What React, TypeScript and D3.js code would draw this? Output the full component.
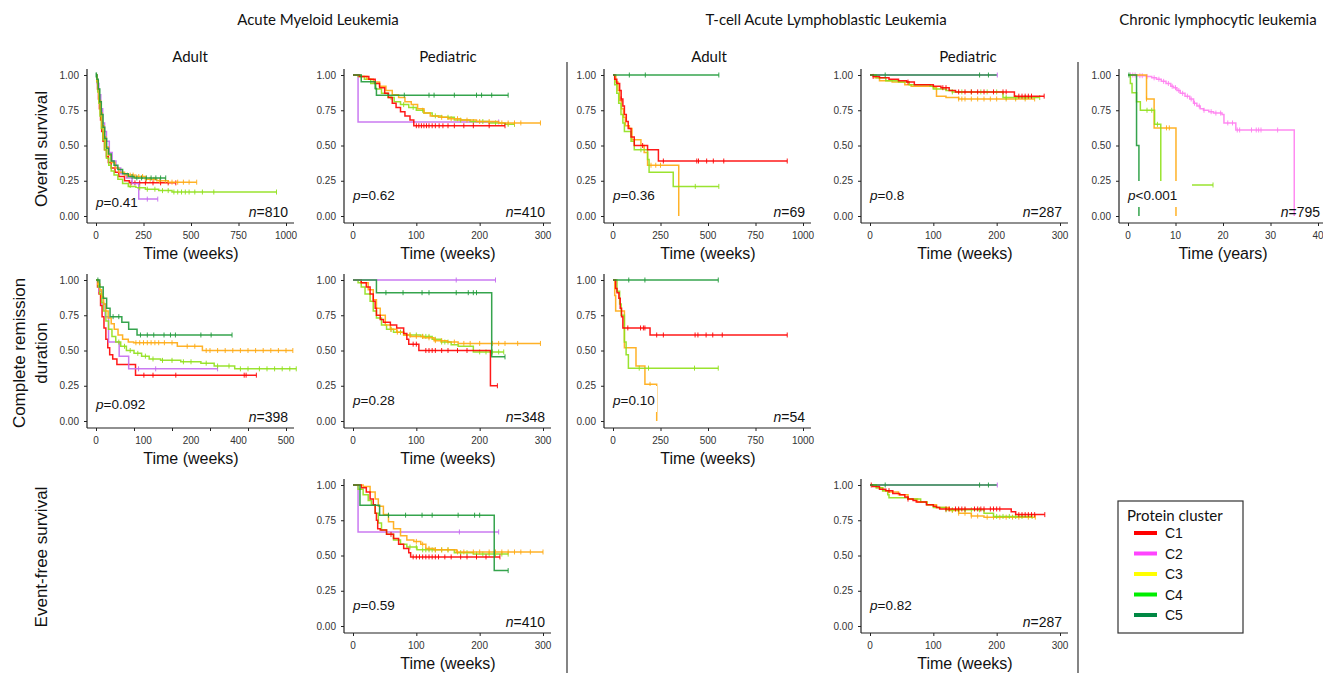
import React, { useRef, useEffect } from 'react';
import * as d3 from 'd3';

// colours used for the curves, and (brighter) for the legend keys
const clusters = ['C1', 'C2', 'C3', 'C4', 'C5'];
const curveColors = { C1: '#ff0000', C2: '#c46cf0', C3: '#ffaa11', C4: '#8fe01a', C5: '#1f9a3a' };
const cllColors = { ...curveColors, C2: '#ff7ef0' };
const legendColors = ['#ff0000', '#ff44ff', '#ffff00', '#00ee00', '#008844'];

const yTicks = [0, 0.25, 0.5, 0.75, 1];

// steps: [time, survival after drop]; end: last follow-up; censor: censor times
const amlAdultOS = [
  { c: 'C1', steps: [[4, 0.96], [8, 0.9], [13, 0.83], [18, 0.76], [24, 0.68], [30, 0.6], [37, 0.53], [45, 0.47], [55, 0.42], [65, 0.38], [80, 0.34], [100, 0.31], [120, 0.28], [150, 0.25], [175, 0.235]], end: 420, censor: [185, 205, 230, 260, 300, 340, 380, 420] },
  { c: 'C2', steps: [[6, 0.94], [15, 0.86], [25, 0.76], [35, 0.66], [45, 0.6], [55, 0.53], [70, 0.45], [85, 0.39], [105, 0.34], [130, 0.3], [160, 0.27], [190, 0.23], [225, 0.12]], end: 325, censor: [270, 325] },
  { c: 'C4', steps: [[4, 0.95], [9, 0.88], [15, 0.8], [21, 0.71], [28, 0.62], [36, 0.54], [45, 0.47], [55, 0.41], [67, 0.36], [80, 0.32], [95, 0.29], [115, 0.26], [140, 0.23], [170, 0.21], [210, 0.2], [260, 0.19], [330, 0.18], [400, 0.17]], end: 950, censor: [180, 230, 270, 310, 350, 380, 410, 430, 450, 470, 490, 520, 560, 620, 950] },
  { c: 'C3', steps: [[5, 0.96], [10, 0.9], [17, 0.82], [24, 0.73], [32, 0.64], [42, 0.56], [52, 0.49], [65, 0.43], [80, 0.38], [100, 0.34], [120, 0.31], [150, 0.29], [200, 0.28], [260, 0.26], [320, 0.25], [380, 0.24]], end: 530, censor: [165, 180, 195, 210, 225, 245, 265, 285, 305, 335, 365, 400, 430, 460, 490, 530] },
  { c: 'C5', steps: [[5, 0.97], [12, 0.9], [20, 0.81], [28, 0.72], [37, 0.63], [46, 0.55], [56, 0.48], [66, 0.44], [80, 0.39], [95, 0.36], [115, 0.33], [140, 0.3], [170, 0.28], [200, 0.27]], end: 367, censor: [0, 3, 190, 215, 240, 265, 290, 315, 340, 367] },
];

const amlPedOS = [
  { c: 'C2', steps: [[8, 0.667]], end: 230, censor: [230] },
  { c: 'C4', steps: [[8, 0.99], [18, 0.97], [28, 0.94], [36, 0.9], [45, 0.87], [55, 0.84], [65, 0.81], [75, 0.79], [88, 0.77], [100, 0.75], [112, 0.73], [125, 0.71], [140, 0.7], [160, 0.68], [185, 0.67], [215, 0.66], [240, 0.65]], end: 255, censor: [60, 80, 95, 110, 130, 150, 170, 190, 205, 225, 245, 255] },
  { c: 'C3', steps: [[12, 0.99], [22, 0.97], [32, 0.95], [42, 0.92], [52, 0.89], [62, 0.86], [72, 0.84], [82, 0.81], [92, 0.79], [102, 0.76], [112, 0.73], [122, 0.71], [135, 0.7], [150, 0.69], [170, 0.68], [195, 0.67], [230, 0.66]], end: 296, censor: [140, 155, 165, 180, 200, 215, 235, 245, 255, 265, 296] },
  { c: 'C1', steps: [[10, 0.99], [25, 0.97], [35, 0.94], [42, 0.91], [50, 0.87], [56, 0.84], [62, 0.8], [68, 0.77], [75, 0.74], [82, 0.71], [90, 0.68], [96, 0.64]], end: 240, censor: [100, 104, 108, 112, 116, 120, 125, 130, 136, 142, 150, 160, 175, 190, 215, 240] },
  { c: 'C5', steps: [[13, 0.952], [35, 0.905], [37, 0.857]], end: 245, censor: [81, 120, 128, 160, 195, 203, 219, 245] },
];

const tallAdultOS = [
  { c: 'C3', steps: [[15, 0.95], [26, 0.89], [35, 0.82], [45, 0.76], [55, 0.7], [65, 0.64], [86, 0.62], [100, 0.54], [147, 0.5], [164, 0.45], [182, 0.36], [346, 0]], end: 346, censor: [200, 225, 250] },
  { c: 'C4', steps: [[9, 0.93], [20, 0.87], [30, 0.8], [42, 0.72], [52, 0.66], [60, 0.6], [95, 0.53], [112, 0.47], [182, 0.4], [190, 0.31], [317, 0.21]], end: 557, censor: [147, 433, 557] },
  { c: 'C1', steps: [[9, 0.97], [20, 0.94], [35, 0.89], [43, 0.83], [52, 0.78], [60, 0.72], [70, 0.67], [80, 0.62], [95, 0.56], [112, 0.5], [182, 0.47], [239, 0.39]], end: 917, censor: [43, 156, 265, 441, 450, 493, 528, 583, 917] },
  { c: 'C5', steps: [], end: 557, censor: [86, 170, 557] },
];

const tallPedOS = [
  { c: 'C2', steps: [], end: 201, censor: [201] },
  { c: 'C3', steps: [[8, 0.98], [15, 0.96], [35, 0.95], [55, 0.93], [65, 0.92], [100, 0.91], [105, 0.85], [120, 0.84], [140, 0.83]], end: 260, censor: [140, 145, 150, 160, 170, 180, 190, 200, 215, 230, 245, 260] },
  { c: 'C4', steps: [[10, 0.98], [25, 0.96], [45, 0.95], [62, 0.93], [95, 0.92], [100, 0.9], [120, 0.89], [130, 0.88], [210, 0.84]], end: 268, censor: [130, 145, 160, 175, 185, 200, 215, 230, 245, 268] },
  { c: 'C1', steps: [[5, 0.99], [15, 0.98], [30, 0.97], [45, 0.96], [58, 0.95], [70, 0.93], [100, 0.92], [112, 0.91], [125, 0.89], [135, 0.88], [228, 0.85]], end: 275, censor: [5, 60, 115, 120, 140, 150, 160, 170, 180, 195, 210, 215, 235, 240, 245, 250, 255, 275] },
  { c: 'C5', steps: [], end: 200, censor: [24, 173, 187] },
];

const cllOS = [
  { c: 'C2', steps: [[2, 0.995], [3.9, 0.99], [5, 0.98], [6, 0.97], [7, 0.955], [8, 0.94], [9, 0.92], [9.6, 0.91], [10.3, 0.89], [11, 0.87], [12, 0.85], [13, 0.83], [13.8, 0.8], [14.5, 0.78], [15.2, 0.76], [15.9, 0.75], [17, 0.74], [18, 0.73], [19.8, 0.72], [20.2, 0.66], [22.7, 0.61], [35, 0]], end: 35, censor: [0.5, 1, 1.5, 2.5, 3, 4, 5.5, 6.5, 7.5, 8.5, 9.3, 10, 10.7, 11.5, 12.5, 13.3, 14, 15, 16, 17.5, 18.5, 19.5, 21, 22, 23, 23.5, 26, 27, 27.5, 28, 31.5] },
  { c: 'C3', steps: [[3.9, 0.83], [5.5, 0.625], [10.1, 0]], end: 10.1, censor: [3.9, 8.1, 8.7] },
  { c: 'C4', steps: [[0.5, 0.94], [0.85, 0.875], [1.8, 0.81], [2.6, 0.75], [5.6, 0.65], [6.9, 0.22]], end: 17.9, censor: [4, 5, 6.2, 17.9] },
  { c: 'C5', steps: [[1.8, 0.5], [2.3, 0]], end: 2.3, censor: [0.2] },
];

const amlAdultCRD = [
  { c: 'C1', steps: [[4, 0.95], [8, 0.9], [12, 0.82], [16, 0.74], [21, 0.66], [26, 0.58], [31, 0.52], [36, 0.47], [44, 0.44], [55, 0.4], [104, 0.325]], end: 422, censor: [126, 150, 210, 390, 395, 422] },
  { c: 'C2', steps: [[8, 0.92], [15, 0.83], [24, 0.74], [33, 0.56], [61, 0.46], [86, 0.37]], end: 320, censor: [112, 157, 320] },
  { c: 'C4', steps: [[6, 0.95], [10, 0.9], [15, 0.84], [20, 0.78], [26, 0.71], [33, 0.65], [42, 0.6], [52, 0.56], [65, 0.53], [80, 0.5], [100, 0.48], [120, 0.46], [140, 0.44], [170, 0.43], [223, 0.42], [276, 0.41], [311, 0.39], [365, 0.37]], end: 527, censor: [60, 75, 90, 110, 130, 150, 175, 200, 230, 250, 290, 320, 350, 380, 400, 430, 450, 470, 490, 510, 527] },
  { c: 'C3', steps: [[5, 0.97], [10, 0.93], [15, 0.88], [20, 0.83], [26, 0.78], [32, 0.73], [40, 0.69], [48, 0.65], [58, 0.61], [70, 0.58], [85, 0.56], [99, 0.555], [214, 0.53], [280, 0.5]], end: 518, censor: [105, 115, 125, 135, 145, 155, 165, 180, 200, 240, 260, 290, 300, 320, 340, 360, 380, 400, 420, 440, 460, 480, 500, 518] },
  { c: 'C5', steps: [[10, 0.95], [19, 0.87], [28, 0.8], [37, 0.74], [68, 0.7], [86, 0.65], [108, 0.61]], end: 358, censor: [5, 45, 60, 117, 135, 152, 179, 196, 209, 276, 303, 358] },
];

const amlPedCRD = [
  { c: 'C4', steps: [[8, 0.98], [13, 0.95], [19, 0.9], [27, 0.85], [32, 0.78], [37, 0.73], [45, 0.68], [53, 0.65], [64, 0.63], [80, 0.61], [107, 0.6], [125, 0.58], [139, 0.56], [155, 0.54], [166, 0.53], [190, 0.49]], end: 238, censor: [60, 75, 90, 100, 110, 115, 120, 130, 140, 145, 150, 200, 210, 220, 230, 238] },
  { c: 'C3', steps: [[13, 0.98], [24, 0.93], [32, 0.86], [37, 0.8], [43, 0.75], [51, 0.68], [59, 0.65], [69, 0.63], [80, 0.61], [91, 0.6], [112, 0.59], [128, 0.57], [149, 0.56], [166, 0.55]], end: 296, censor: [60, 70, 90, 100, 110, 120, 130, 140, 160, 175, 185, 200, 220, 230, 240, 260, 296] },
  { c: 'C1', steps: [[13, 0.98], [21, 0.95], [27, 0.9], [32, 0.85], [35, 0.8], [37, 0.75], [43, 0.72], [48, 0.7], [59, 0.68], [69, 0.66], [80, 0.62], [85, 0.58], [88, 0.545], [104, 0.5], [217, 0.25]], end: 228, censor: [95, 100, 115, 120, 125, 130, 140, 150, 165, 180, 228] },
  { c: 'C2', steps: [], end: 225, censor: [163, 225] },
  { c: 'C5', steps: [[37, 0.91], [219, 0.455]], end: 240, censor: [52, 79, 109, 120, 163, 182, 190, 195, 240] },
];

const tallAdultCRD = [
  { c: 'C3', steps: [[9, 0.89], [14, 0.78], [60, 0.52], [121, 0.39], [168, 0.26], [230, 0]], end: 230, censor: [195] },
  { c: 'C4', steps: [[21, 0.92], [35, 0.83], [43, 0.75], [60, 0.56], [69, 0.47], [81, 0.375]], end: 554, censor: [138, 187, 429, 554] },
  { c: 'C1', steps: [[14, 0.94], [21, 0.91], [31, 0.87], [38, 0.8], [45, 0.74], [52, 0.66], [195, 0.61]], end: 917, censor: [78, 145, 160, 168, 230, 265, 432, 447, 490, 525, 575, 917] },
  { c: 'C5', steps: [], end: 554, censor: [83, 168, 554] },
];

const amlPedEFS = [
  { c: 'C2', steps: [[8, 0.667]], end: 230, censor: [168, 230] },
  { c: 'C4', steps: [[8, 0.97], [16, 0.93], [24, 0.89], [29, 0.86], [35, 0.8], [40, 0.73], [45, 0.68], [53, 0.65], [64, 0.61], [75, 0.58], [85, 0.56], [101, 0.54], [160, 0.52], [190, 0.51]], end: 245, censor: [90, 100, 110, 115, 120, 125, 130, 140, 150, 170, 180, 195, 205, 215, 225, 235, 245] },
  { c: 'C3', steps: [[16, 0.99], [27, 0.95], [35, 0.9], [40, 0.85], [48, 0.79], [56, 0.74], [64, 0.69], [75, 0.64], [85, 0.61], [96, 0.6], [107, 0.58], [115, 0.55], [128, 0.54], [163, 0.525]], end: 300, censor: [100, 110, 120, 130, 140, 150, 165, 175, 190, 200, 215, 225, 235, 245, 255, 265, 280, 300] },
  { c: 'C1', steps: [[13, 0.98], [21, 0.95], [27, 0.9], [32, 0.86], [35, 0.8], [37, 0.75], [39, 0.69], [43, 0.68], [53, 0.65], [64, 0.62], [72, 0.58], [80, 0.55], [88, 0.52], [91, 0.49]], end: 232, censor: [60, 95, 100, 105, 110, 115, 120, 125, 130, 135, 145, 155, 170, 180, 195, 210, 232] },
  { c: 'C5', steps: [[11, 0.857], [42, 0.786], [223, 0.393]], end: 245, censor: [56, 83, 109, 125, 166, 192, 200, 245] },
];

const tallPedEFS = [
  { c: 'C2', steps: [], end: 201, censor: [201] },
  { c: 'C3', steps: [[10, 0.98], [20, 0.96], [30, 0.95], [45, 0.93], [60, 0.9], [75, 0.88], [90, 0.86], [105, 0.84], [125, 0.82], [140, 0.8], [160, 0.78], [180, 0.772]], end: 261, censor: [130, 140, 150, 160, 170, 185, 195, 205, 215, 225, 235, 250, 261] },
  { c: 'C4', steps: [[10, 0.98], [20, 0.96], [28, 0.93], [30, 0.91], [60, 0.9], [80, 0.88], [90, 0.86], [100, 0.84], [120, 0.824], [180, 0.8], [195, 0.777]], end: 256, censor: [120, 130, 140, 150, 160, 173, 200, 210, 220, 230, 240, 256] },
  { c: 'C1', steps: [[4, 0.99], [15, 0.97], [25, 0.96], [36, 0.94], [47, 0.93], [55, 0.915], [60, 0.9], [68, 0.89], [73, 0.88], [89, 0.86], [100, 0.85], [105, 0.84], [110, 0.83], [223, 0.81], [230, 0.79]], end: 276, censor: [2, 30, 60, 120, 125, 135, 140, 145, 150, 165, 170, 175, 180, 190, 195, 200, 205, 235, 240, 245, 250, 255, 260, 276] },
  { c: 'C5', steps: [], end: 200, censor: [24, 173, 187] },
];

const panels = [
  { data: amlAdultOS, col: 0, row: 0, xMax: 1000, ticks: [0, 250, 500, 750, 1000], unit: 'weeks', p: '=0.41', n: '=810', pW: 41, pDy: 14 },
  { data: amlPedOS, col: 1, row: 0, xMax: 300, ticks: [0, 100, 200, 300], unit: 'weeks', p: '=0.62', n: '=410', pW: 44 },
  { data: tallAdultOS, col: 2, row: 0, xMax: 1000, ticks: [0, 250, 500, 750, 1000], unit: 'weeks', p: '=0.36', n: '=69', pW: 44 },
  { data: tallPedOS, col: 3, row: 0, xMax: 300, ticks: [0, 100, 200, 300], unit: 'weeks', p: '=0.8', n: '=287', pW: 36 },
  { data: cllOS, col: 4, row: 0, xMax: 40, ticks: [0, 10, 20, 30, 40], unit: 'years', p: '<0.001', n: '=795', pW: 64, colors: cllColors },
  { data: amlAdultCRD, col: 0, row: 1, xMax: 500, ticks: [0, 100, 200, 300, 400, 500], labelVals: [0, 125, 250, 375, 500], labels: ['0', '100', '200', '400', '500'], unit: 'weeks', p: '=0.092', n: '=398', pW: 50, pDy: 17 },
  { data: amlPedCRD, col: 1, row: 1, xMax: 300, ticks: [0, 100, 200, 300], unit: 'weeks', p: '=0.28', n: '=348', pW: 44 },
  { data: tallAdultCRD, col: 2, row: 1, xMax: 1000, ticks: [0, 250, 500, 750, 1000], unit: 'weeks', p: '=0.10', n: '=54', pW: 44 },
  { data: amlPedEFS, col: 1, row: 2, xMax: 300, ticks: [0, 100, 200, 300], unit: 'weeks', p: '=0.59', n: '=410', pW: 44 },
  { data: tallPedEFS, col: 3, row: 2, xMax: 300, ticks: [0, 100, 200, 300], unit: 'weeks', p: '=0.82', n: '=287', pW: 44 },
];

const diseaseTitles = [
  { text: 'Acute Myeloid Leukemia', x: 318 },
  { text: 'T-cell Acute Lymphoblastic Leukemia', x: 826 },
  { text: 'Chronic lymphocytic leukemia', x: 1218 },
];
const ageTitles = [
  { text: 'Adult', x: 190 },
  { text: 'Pediatric', x: 448 },
  { text: 'Adult', x: 709 },
  { text: 'Pediatric', x: 968 },
];

const COLS = [87, 344, 604, 861, 1119];
const ROWS = [75, 280, 485];
const PLOT_H = 141;
const SPAN = 190;

const AXIS_FONT = "'Liberation Sans', Arial, sans-serif";
const TITLE_FONT = "Lato, 'Liberation Sans', sans-serif";

const valueAt = (s, t) => {
  let v = 1;
  s.steps.forEach(([st, sv]) => { if (st <= t) v = sv; });
  return v;
};

const App = () => {
  const svgRef = useRef(null);

  useEffect(() => {
    const svg = d3.select(svgRef.current);
    svg.selectAll('*').remove();

    panels.forEach(p => {
      const ax = COLS[p.col];
      const x0 = ax + 9;
      const yTop = ROWS[p.row];
      const yBot = yTop + PLOT_H;
      const axisY = yBot + 7;
      const colors = p.colors || curveColors;

      const x = d3.scaleLinear().domain([0, p.xMax]).range([x0, x0 + SPAN]);
      const y = d3.scaleLinear().domain([0, 1]).range([yBot, yTop]);

      const g = svg.append('g').attr('font-family', AXIS_FONT);

      // y axis
      g.append('g')
        .attr('transform', `translate(${ax},0)`)
        .call(d3.axisLeft(y).tickValues(yTicks).tickFormat(d3.format('.2f')).tickSize(3).tickPadding(5))
        .call(a => a.select('.domain').remove())
        .call(a => a.selectAll('text').attr('font-size', 10).attr('fill', '#333').attr('font-family', AXIS_FONT))
        .call(a => a.selectAll('line').attr('stroke', '#222'));
      g.append('line')
        .attr('x1', ax).attr('x2', ax)
        .attr('y1', yTop - 6).attr('y2', axisY)
        .attr('stroke', '#222').attr('stroke-width', 1.2);

      // x axis (tick marks and labels are set apart because one panel has relabelled ticks)
      g.append('g')
        .attr('transform', `translate(0,${axisY})`)
        .call(d3.axisBottom(x).tickValues(p.ticks).tickFormat('').tickSize(3))
        .call(a => a.select('.domain').remove())
        .call(a => a.selectAll('line').attr('stroke', '#222'));
      g.append('line')
        .attr('x1', ax).attr('x2', x0 + SPAN + 8)
        .attr('y1', axisY).attr('y2', axisY)
        .attr('stroke', '#222').attr('stroke-width', 1.2);

      const labelVals = p.labelVals || p.ticks;
      const labels = p.labels || p.ticks.map(String);
      g.selectAll('.xlab')
        .data(labelVals)
        .join('text')
        .attr('x', d => x(d))
        .attr('y', axisY + 15.5)
        .attr('text-anchor', 'middle')
        .attr('font-size', 10)
        .attr('fill', '#333')
        .text((d, i) => labels[i]);

      g.append('text')
        .attr('x', x0 + SPAN / 2)
        .attr('y', axisY + 36)
        .attr('text-anchor', 'middle')
        .attr('font-size', 16)
        .attr('fill', '#111')
        .text(`Time (${p.unit})`);

      // curves
      const line = d3.line()
        .x(d => x(d[0]))
        .y(d => y(d[1]))
        .curve(d3.curveStepAfter);

      p.data.forEach(s => {
        const last = s.steps.length ? s.steps[s.steps.length - 1][1] : 1;
        const pts = [[0, 1], ...s.steps, [s.end, last]];
        g.append('path')
          .attr('d', line(pts))
          .attr('fill', 'none')
          .attr('stroke', colors[s.c])
          .attr('stroke-width', 1.5)
          .attr('stroke-opacity', 0.9);
        g.selectAll(null)
          .data(s.censor)
          .join('line')
          .attr('x1', d => x(d)).attr('x2', d => x(d))
          .attr('y1', d => y(valueAt(s, d)) - 2.5)
          .attr('y2', d => y(valueAt(s, d)) + 2.5)
          .attr('stroke', colors[s.c])
          .attr('stroke-width', 1)
          .attr('stroke-opacity', 0.9);
      });

      // p value with white background box
      const pc = yBot - (p.pDy || 21);
      g.append('rect')
        .attr('x', x0 - 3).attr('y', pc - 14)
        .attr('width', p.pW + 3).attr('height', 26)
        .attr('fill', '#fff');
      const pt = g.append('text')
        .attr('x', x0)
        .attr('y', pc + 5)
        .attr('font-size', 13.5)
        .attr('fill', '#111');
      pt.append('tspan').attr('font-style', 'italic').text('p');
      pt.append('tspan').text(p.p);

      const nt = g.append('text')
        .attr('x', x0 + SPAN + 2)
        .attr('y', yBot + 1)
        .attr('text-anchor', 'end')
        .attr('font-size', 14)
        .attr('fill', '#111');
      nt.append('tspan').attr('font-style', 'italic').text('n');
      nt.append('tspan').text(p.n);
    });

    // titles
    svg.selectAll('.dtitle')
      .data(diseaseTitles)
      .join('text')
      .attr('x', d => d.x).attr('y', 25)
      .attr('text-anchor', 'middle')
      .attr('font-family', TITLE_FONT)
      .attr('font-size', 15)
      .attr('fill', '#111')
      .text(d => d.text);

    svg.selectAll('.atitle')
      .data(ageTitles)
      .join('text')
      .attr('x', d => d.x).attr('y', 62)
      .attr('text-anchor', 'middle')
      .attr('font-family', TITLE_FONT)
      .attr('font-size', 15)
      .attr('fill', '#111')
      .text(d => d.text);

    // row labels
    const rowLabels = [
      { text: 'Overall survival', x: 41, y: 149 },
      { text: 'Complete remission', x: 19, y: 353 },
      { text: 'duration', x: 41, y: 353 },
      { text: 'Event-free survival', x: 41, y: 557 },
    ];
    svg.selectAll('.rlab')
      .data(rowLabels)
      .join('text')
      .attr('transform', d => `translate(${d.x},${d.y}) rotate(-90)`)
      .attr('dy', '0.35em')
      .attr('text-anchor', 'middle')
      .attr('font-family', AXIS_FONT)
      .attr('font-size', 17)
      .attr('fill', '#111')
      .text(d => d.text);

    // separators
    [567, 1078].forEach(sx => {
      svg.append('line')
        .attr('x1', sx).attr('x2', sx)
        .attr('y1', 62).attr('y2', 673)
        .attr('stroke', '#333').attr('stroke-width', 1.2);
    });

    // legend
    const lg = svg.append('g');
    lg.append('rect')
      .attr('x', 1118).attr('y', 501)
      .attr('width', 125).attr('height', 132)
      .attr('fill', '#fff').attr('stroke', '#333').attr('stroke-width', 1.2);
    lg.append('text')
      .attr('x', 1127).attr('y', 521)
      .attr('font-family', TITLE_FONT)
      .attr('font-size', 15)
      .attr('fill', '#111')
      .text('Protein cluster');
    clusters.forEach((c, i) => {
      const ly = 533 + i * 20.5;
      lg.append('line')
        .attr('x1', 1134).attr('x2', 1157)
        .attr('y1', ly).attr('y2', ly)
        .attr('stroke', legendColors[i]).attr('stroke-width', 4);
      lg.append('text')
        .attr('x', 1165).attr('y', ly + 5)
        .attr('font-family', AXIS_FONT)
        .attr('font-size', 14)
        .attr('fill', '#111')
        .text(c);
    });
  }, []);

  return (
    <svg
      ref={svgRef}
      width={1323}
      height={673}
      style={{ position: 'absolute', left: 0, top: 0, background: '#fff' }}
    />
  );
};

export default App;
